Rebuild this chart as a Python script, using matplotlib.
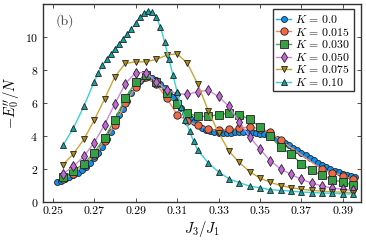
import matplotlib
matplotlib.use("Agg")
import matplotlib.pyplot as plt
import numpy as np

plt.rcParams["font.family"] = "serif"
plt.rcParams["font.serif"] = ["cmr10", "DejaVu Serif"]
plt.rcParams["mathtext.fontset"] = "cm"
plt.rcParams["axes.formatter.use_mathtext"] = True

# K = 0.0 (dense sampling)
x_k0 = np.round(np.arange(0.252, 0.3961, 0.002), 3)
y_k0 = [1.22, 1.30, 1.40, 1.52, 1.63, 1.78, 1.95, 2.10, 2.37, 2.65,
        2.95, 3.35, 3.80, 4.25, 4.75, 5.30, 5.65, 6.15, 6.60, 7.00,
        7.33, 7.55, 7.60, 7.55, 7.38, 7.15, 6.90, 6.65, 6.35, 6.05,
        5.72, 5.40, 5.10, 4.88, 4.68, 4.50, 4.38, 4.30, 4.22, 4.18,
        4.17, 4.18, 4.20, 4.22, 4.24, 4.24, 4.24, 4.23, 4.20, 4.15,
        4.10, 4.04, 3.93, 3.80, 3.70, 3.57, 3.43, 3.28, 3.14, 3.00,
        2.85, 2.70, 2.53, 2.37, 2.22, 2.10, 2.00, 1.90, 1.80, 1.72,
        1.65, 1.58, 1.52]

# K = 0.015
x_k015 = [0.255, 0.26, 0.265, 0.27, 0.275, 0.28, 0.285, 0.29, 0.295, 0.30,
          0.305, 0.31, 0.315, 0.32, 0.325, 0.33, 0.335, 0.34, 0.345, 0.35,
          0.355, 0.36, 0.38, 0.385, 0.39, 0.395]
y_k015 = [1.40, 1.72, 2.22, 2.83, 3.70, 4.70, 6.00, 6.95, 7.57, 7.15,
          6.30, 5.30, 4.90, 4.65, 4.40, 4.35, 4.40, 4.48, 4.55, 4.45,
          4.24, 3.74, 1.98, 1.78, 1.60, 1.37]

# K = 0.030
x_k030 = [0.255, 0.26, 0.265, 0.27, 0.275, 0.28, 0.285, 0.29, 0.295, 0.30,
          0.305, 0.31, 0.315, 0.32, 0.325, 0.33, 0.335, 0.34, 0.345, 0.35,
          0.355, 0.36, 0.365, 0.37, 0.375, 0.38, 0.385, 0.39, 0.395]
y_k030 = [1.50, 1.88, 2.33, 3.00, 3.90, 5.00, 6.30, 7.27, 7.70, 7.30,
          6.60, 5.92, 5.40, 5.19, 5.19, 5.30, 5.38, 5.30, 5.02, 4.55,
          3.98, 3.33, 2.89, 2.33, 1.92, 1.62, 1.36, 1.21, 1.01]

# K = 0.050
x_k050 = x_k030
y_k050 = [1.72, 2.16, 2.77, 3.60, 4.70, 5.96, 7.17, 7.85, 7.85, 7.30,
          6.80, 6.57, 6.52, 6.70, 6.77, 6.40, 5.80, 4.85, 3.95, 3.20,
          2.50, 2.00, 1.68, 1.38, 1.15, 0.97, 0.85, 0.77, 0.71]

# K = 0.075
x_k075 = x_k030
y_k075 = [2.27, 2.93, 3.80, 4.95, 6.25, 7.60, 8.40, 8.50, 8.50, 8.65,
          8.90, 9.00, 8.40, 7.15, 5.55, 4.20, 3.10, 2.40, 1.85, 1.45,
          1.20, 1.00, 0.87, 0.78, 0.71, 0.66, 0.62, 0.60, 0.57]

# K = 0.10
x_k10 = [0.255, 0.26, 0.265, 0.27, 0.272, 0.274, 0.276, 0.278, 0.28, 0.282,
         0.284, 0.286, 0.288, 0.29, 0.292, 0.294, 0.296, 0.298, 0.30, 0.302,
         0.304, 0.306, 0.308, 0.31, 0.312, 0.314, 0.316, 0.318, 0.32, 0.325,
         0.33, 0.335, 0.34, 0.345, 0.35, 0.355, 0.36, 0.365, 0.37, 0.375,
         0.38, 0.385, 0.39, 0.395]
y_k10 = [3.45, 4.50, 5.80, 7.30, 7.85, 8.30, 8.65, 9.00, 9.30, 9.60,
         9.90, 10.20, 10.50, 10.85, 11.20, 11.45, 11.60, 11.50, 11.20, 10.60,
         9.70, 8.70, 7.70, 6.70, 5.75, 4.95, 4.30, 3.68, 3.13, 2.39,
         1.82, 1.42, 1.18, 0.97, 0.87, 0.75, 0.71, 0.67, 0.61, 0.58,
         0.55, 0.53, 0.50, 0.49]

series = [
    (x_k0, y_k0, r"$K\,=\,0.0$", "o", "#0a90f0", "#3aa8f5", 4.3),
    (x_k015, y_k015, r"$K\,=\,0.015$", "o", "#ee6a45", "#f08a6a", 5.3),
    (x_k030, y_k030, r"$K\,=\,0.030$", "s", "#34a043", "#4aaa55", 5.3),
    (x_k050, y_k050, r"$K\,=\,0.050$", "d", "#c466d8", "#cf88e0", 4.6),
    (x_k075, y_k075, r"$K\,=\,0.075$", "v", "#b08c10", "#c8a53a", 5.0),
    (x_k10, y_k10, r"$K\,=\,0.10$", "^", "#14a3a3", "#3cd0d0", 5.0),
]

fig = plt.figure(figsize=(3.66, 2.4), dpi=100)
ax = fig.add_axes([0.1175, 0.158, 0.8685, 0.825])

for x, y, lab, mk, fc, lc, ms in series:
    ax.plot(x, y, color=lc, lw=1.0, marker=mk, markersize=ms,
            markerfacecolor=fc, markeredgecolor="#222222",
            markeredgewidth=0.6, label=lab)

ax.set_xlim(0.2453, 0.3987)
ax.set_ylim(0, 12)
ax.set_xticks([0.25, 0.27, 0.29, 0.31, 0.33, 0.35, 0.37, 0.39])
ax.set_xticklabels(["0.25", "0.27", "0.29", "0.31", "0.33", "0.35", "0.37", "0.39"])
ax.set_yticks([0, 2, 4, 6, 8, 10])
ax.tick_params(direction="in", top=True, right=True, labelsize=8.5,
               length=3, width=0.6, colors="#333333", labelcolor="black")
for s in ax.spines.values():
    s.set_linewidth(1.0)
    s.set_color("#333333")

ax.set_xlabel(r"$J_3/J_1$", fontsize=10.5, labelpad=2)
ax.set_ylabel(r"$-E_0''/N$", fontsize=10.5, labelpad=2)
ax.text(0.04, 0.895, "(b)", transform=ax.transAxes, fontsize=10, color="#444444")

leg = ax.legend(loc="upper right", bbox_to_anchor=(0.985, 0.985), fontsize=8.5,
                frameon=True, fancybox=False, handlelength=1.3,
                handletextpad=0.3, borderpad=0.3, labelspacing=0.05,
                borderaxespad=0.2)
leg.get_frame().set_edgecolor("black")
leg.get_frame().set_linewidth(1.0)

fig.savefig("out.png", dpi=100)
